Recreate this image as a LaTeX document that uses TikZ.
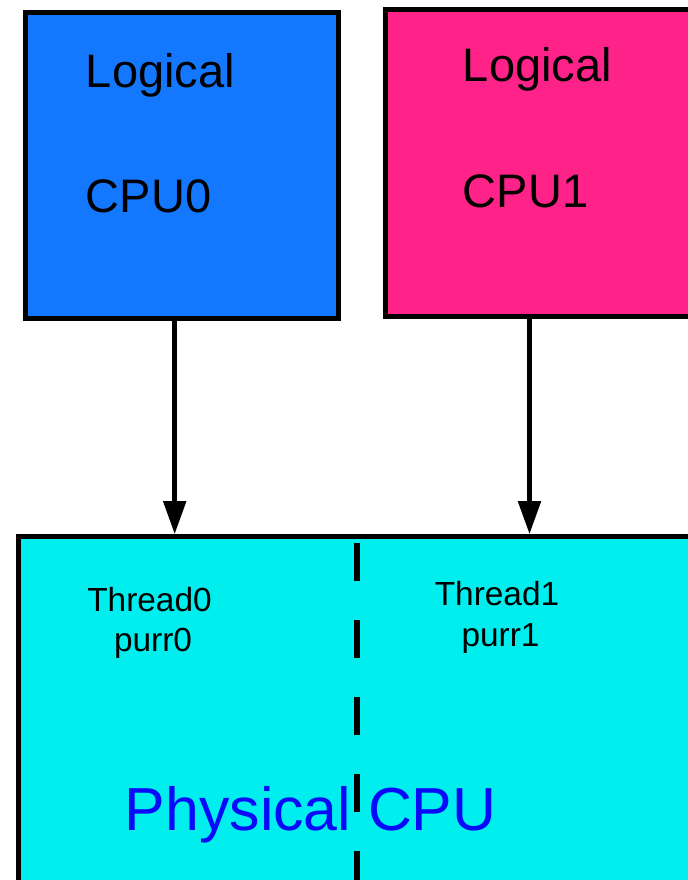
\documentclass[tikz,border=0pt]{standalone}
\usepackage{fontspec}
\setmainfont{Liberation Sans}
\usetikzlibrary{arrows.meta,fit}

\definecolor{cpublue}{RGB}{20,120,255}
\definecolor{cpupink}{RGB}{255,34,136}
\definecolor{cpucyan}{RGB}{0,238,238}
\definecolor{physblue}{RGB}{10,10,250}

\tikzset{
  cpubox/.style={draw=black, line width=2.5pt, inner sep=0pt},
  biglabel/.style={anchor=base west, inner sep=0pt, font=\fontsize{23.5}{28}\selectfont},
  threadlabel/.style={anchor=base, inner sep=0pt, font=\fontsize{16.7}{20}\selectfont},
  link/.style={line width=2.5pt, -{Triangle[width=11pt,length=16.5pt]}},
}

\begin{document}
\begin{tikzpicture}[x=0.5pt, y=-0.5pt]

  \useasboundingbox (0,0) rectangle (688,880);
  \clip (0,0) rectangle (688,880);

  % logical cpu 0
  \node[cpubox, fill=cpublue, fit={(25.5,12.5) (338,318)}] (lcpu0) {};
  \node[biglabel] (logical0) at (85.5,87) {Logical};
  \node[biglabel] (name0) at (85.5,212) {CPU0};

  % logical cpu 1 (runs off the right edge)
  \node[cpubox, fill=cpupink, fit={(385.5,9.5) (705,316.5)}] (lcpu1) {};
  \node[biglabel] (logical1) at (462.5,81.5) {Logical};
  \node[biglabel] (name1) at (462.5,207) {CPU1};

  % physical cpu
  \node[cpubox, fill=cpucyan, fit={(18.7,536.7) (720,940)}] (pcpu) {};

  % split between the two threads
  \coordinate (divtop) at (357,543);
  \coordinate (divbot) at (357,900);
  \draw[line width=2.75pt, dash pattern=on 19pt off 19.5pt] (divtop) -- (divbot);

  % threads
  \node[threadlabel] (thread0) at (149.5,611) {Thread0};
  \node[threadlabel] (purr0) at (153,651) {purr0};
  \node[threadlabel] (thread1) at (497,605) {Thread1};
  \node[threadlabel] (purr1) at (500.5,646) {purr1};

  \node[anchor=base west, inner sep=0pt, text=physblue,
        font=\fontsize{30.4}{36}\selectfont] (physical) at (124.5,830) {Physical CPU};

  % logical -> physical
  \coordinate (col0) at (174.7,0);
  \coordinate (col1) at (529.5,0);
  \draw[link] (lcpu0.south -| col0) -- (pcpu.north -| col0);
  \draw[link] (lcpu1.south -| col1) -- (pcpu.north -| col1);

\end{tikzpicture}
\end{document}
